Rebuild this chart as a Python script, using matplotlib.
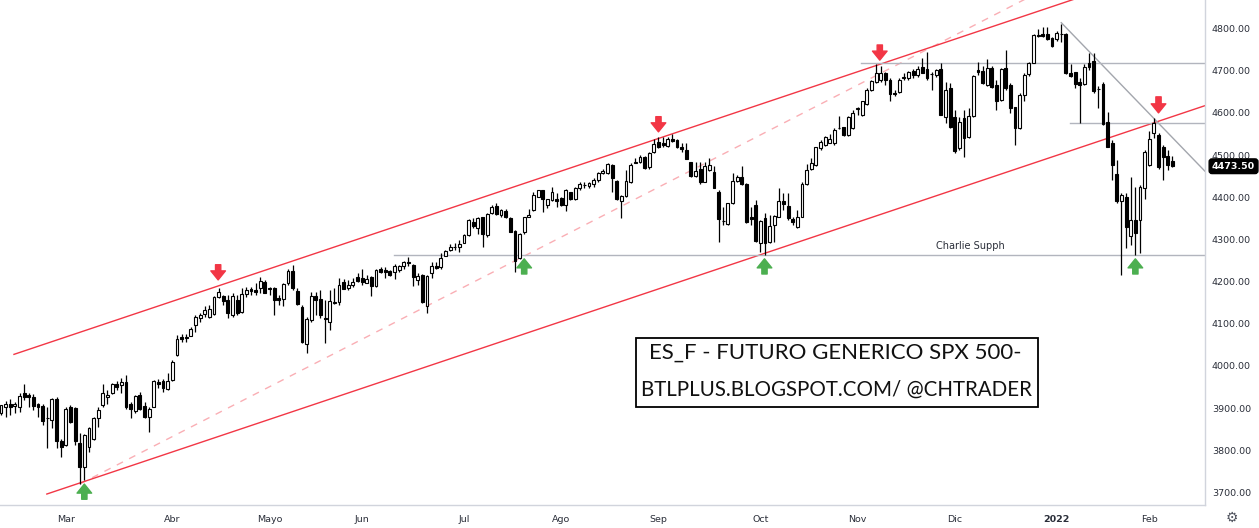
import matplotlib
matplotlib.use("Agg")
import matplotlib.pyplot as plt
from matplotlib.patches import Rectangle
import matplotlib.transforms as mtransforms

# ES_F daily candles, Feb 2021 - Feb 2022
opens = [3888, 3902, 3909, 3905, 3903, 3935, 3930, 3926, 3909, 3905,
         3877, 3873, 3921, 3823, 3813, 3903, 3900, 3817, 3761, 3807,
         3826, 3876, 3907, 3926, 3935, 3957, 3956, 3961, 3910, 3894,
         3931, 3906, 3880, 3903, 3961, 3964, 3945, 3967, 4026, 4068,
         4069, 4072, 4097, 4113, 4123, 4117, 4123, 4163, 4166, 4156,
         4120, 4156, 4127, 4170, 4182, 4180, 4184, 4200, 4184, 4184,
         4160, 4158, 4196, 4224, 4178, 4139, 4052, 4109, 4167, 4158,
         4113, 4105, 4150, 4151, 4198, 4184, 4193, 4210, 4208, 4197,
         4210, 4190, 4231, 4227, 4225, 4222, 4227, 4237, 4247, 4239,
         4204, 4216, 4141, 4220, 4237, 4234, 4261, 4275, 4283, 4283,
         4292, 4310, 4342, 4328, 4352, 4310, 4362, 4379, 4359, 4368,
         4350, 4320, 4257, 4318, 4354, 4370, 4401, 4417, 4382, 4393,
         4396, 4399, 4382, 4412, 4396, 4421, 4428, 4427, 4431, 4441,
         4457, 4457, 4476, 4438, 4391, 4403, 4435, 4481, 4483, 4496,
         4471, 4508, 4530, 4529, 4522, 4538, 4536, 4520, 4512, 4484,
         4451, 4466, 4437, 4465, 4461, 4413, 4343, 4337, 4386, 4439,
         4447, 4431, 4352, 4382, 4292, 4350, 4295, 4334, 4354, 4391,
         4380, 4348, 4329, 4354, 4431, 4466, 4476, 4517, 4524, 4529,
         4528, 4563, 4566, 4548, 4563, 4609, 4595, 4621, 4654, 4674,
         4679, 4694, 4679, 4648, 4649, 4683, 4682, 4700, 4690, 4708,
         4703, 4692, 4690, 4703, 4590, 4658, 4590, 4516, 4589, 4544,
         4593, 4702, 4700, 4666, 4707, 4666, 4631, 4707, 4666, 4613,
         4563, 4642, 4691, 4719, 4785, 4787, 4786, 4777, 4774, 4787,
         4787, 4695, 4696, 4674, 4669, 4719, 4722, 4657, 4668, 4579,
         4528, 4455, 4390, 4401, 4309, 4346, 4346, 4423, 4477, 4553,
         4548, 4518, 4498, 4486]
highs = [3908, 3918, 3921, 3915, 3935, 3957, 3935, 3933, 3913, 3911,
         3903, 3923, 3927, 3828, 3903, 3907, 3903, 3840, 3839, 3856,
         3878, 3903, 3957, 3943, 3959, 3965, 3971, 3979, 3915, 3931,
         3939, 3915, 3903, 3967, 3968, 3968, 3983, 4014, 4073, 4075,
         4075, 4093, 4121, 4125, 4141, 4145, 4166, 4186, 4168, 4168,
         4172, 4168, 4186, 4188, 4188, 4196, 4212, 4204, 4188, 4188,
         4168, 4197, 4231, 4239, 4184, 4145, 4115, 4176, 4176, 4180,
         4156, 4180, 4184, 4208, 4205, 4204, 4208, 4220, 4230, 4216,
         4213, 4229, 4234, 4234, 4227, 4242, 4239, 4250, 4259, 4242,
         4220, 4218, 4216, 4247, 4247, 4267, 4276, 4289, 4291, 4299,
         4314, 4348, 4350, 4354, 4354, 4362, 4382, 4386, 4371, 4371,
         4352, 4322, 4316, 4354, 4371, 4413, 4417, 4417, 4397, 4425,
         4409, 4401, 4420, 4413, 4425, 4435, 4435, 4437, 4445, 4459,
         4466, 4480, 4479, 4441, 4405, 4464, 4480, 4492, 4500, 4498,
         4508, 4537, 4544, 4544, 4542, 4550, 4537, 4528, 4529, 4484,
         4484, 4483, 4484, 4492, 4474, 4417, 4378, 4387, 4457, 4453,
         4474, 4433, 4378, 4393, 4346, 4362, 4358, 4358, 4421, 4409,
         4409, 4354, 4370, 4437, 4479, 4492, 4520, 4536, 4545, 4551,
         4563, 4593, 4567, 4593, 4607, 4615, 4629, 4658, 4679, 4717,
         4711, 4698, 4682, 4654, 4682, 4694, 4700, 4703, 4711, 4729,
         4745, 4698, 4703, 4719, 4674, 4672, 4607, 4591, 4608, 4611,
         4690, 4721, 4710, 4727, 4710, 4678, 4706, 4749, 4670, 4615,
         4646, 4694, 4721, 4786, 4800, 4804, 4804, 4781, 4793, 4810,
         4789, 4717, 4698, 4682, 4717, 4741, 4741, 4664, 4674, 4603,
         4536, 4488, 4409, 4409, 4449, 4425, 4429, 4512, 4558, 4587,
         4552, 4524, 4512, 4498]
lows = [3884, 3880, 3884, 3888, 3892, 3919, 3903, 3896, 3880, 3860,
        3805, 3852, 3805, 3785, 3810, 3864, 3813, 3720, 3730, 3797,
        3824, 3856, 3903, 3911, 3933, 3943, 3935, 3899, 3876, 3888,
        3895, 3876, 3844, 3903, 3947, 3939, 3943, 3965, 4024, 4058,
        4058, 4070, 4081, 4105, 4115, 4113, 4121, 4160, 4145, 4113,
        4117, 4121, 4126, 4164, 4168, 4168, 4172, 4172, 4168, 4121,
        4145, 4141, 4192, 4180, 4145, 4054, 4030, 4105, 4121, 4113,
        4054, 4085, 4148, 4145, 4182, 4180, 4188, 4200, 4192, 4196,
        4166, 4188, 4221, 4208, 4213, 4207, 4223, 4231, 4237, 4190,
        4192, 4150, 4126, 4208, 4231, 4231, 4261, 4273, 4276, 4271,
        4291, 4308, 4326, 4314, 4283, 4306, 4360, 4358, 4354, 4350,
        4318, 4222, 4253, 4314, 4354, 4368, 4400, 4366, 4374, 4390,
        4378, 4379, 4368, 4393, 4393, 4417, 4421, 4421, 4425, 4437,
        4455, 4455, 4413, 4393, 4350, 4401, 4433, 4480, 4480, 4467,
        4468, 4506, 4517, 4518, 4520, 4532, 4516, 4508, 4491, 4449,
        4449, 4431, 4435, 4463, 4421, 4295, 4334, 4334, 4384, 4437,
        4429, 4338, 4334, 4295, 4271, 4263, 4291, 4295, 4352, 4370,
        4346, 4334, 4326, 4352, 4429, 4464, 4474, 4512, 4521, 4528,
        4524, 4561, 4545, 4545, 4561, 4595, 4593, 4619, 4652, 4672,
        4674, 4666, 4629, 4640, 4646, 4678, 4678, 4682, 4684, 4694,
        4679, 4654, 4686, 4595, 4575, 4563, 4504, 4512, 4495, 4540,
        4591, 4690, 4668, 4664, 4658, 4607, 4627, 4654, 4599, 4524,
        4561, 4627, 4688, 4718, 4781, 4781, 4773, 4755, 4771, 4769,
        4692, 4686, 4658, 4575, 4666, 4702, 4646, 4611, 4571, 4518,
        4441, 4386, 4216, 4279, 4287, 4263, 4267, 4397, 4474, 4540,
        4466, 4441, 4465, 4471]
closes = [3907, 3910, 3903, 3911, 3929, 3927, 3926, 3906, 3902, 3870,
          3876, 3921, 3823, 3807, 3897, 3866, 3821, 3761, 3836, 3852,
          3876, 3896, 3935, 3931, 3957, 3951, 3961, 3903, 3897, 3929,
          3897, 3878, 3898, 3964, 3957, 3947, 3965, 4009, 4065, 4063,
          4066, 4087, 4117, 4121, 4133, 4135, 4163, 4175, 4155, 4125,
          4166, 4126, 4170, 4180, 4178, 4175, 4202, 4174, 4182, 4156,
          4156, 4194, 4224, 4184, 4147, 4058, 4112, 4167, 4156, 4121,
          4112, 4154, 4152, 4193, 4182, 4193, 4199, 4202, 4198, 4207,
          4190, 4227, 4223, 4223, 4216, 4238, 4237, 4247, 4245, 4212,
          4213, 4152, 4213, 4237, 4233, 4255, 4272, 4283, 4281, 4290,
          4310, 4345, 4333, 4351, 4312, 4360, 4378, 4360, 4370, 4352,
          4318, 4250, 4314, 4352, 4359, 4405, 4416, 4396, 4396, 4413,
          4391, 4382, 4417, 4396, 4421, 4431, 4429, 4433, 4441, 4457,
          4463, 4478, 4445, 4396, 4403, 4438, 4476, 4483, 4495, 4469,
          4506, 4526, 4520, 4524, 4537, 4534, 4520, 4514, 4491, 4451,
          4462, 4435, 4475, 4476, 4423, 4348, 4344, 4386, 4438, 4447,
          4431, 4342, 4348, 4297, 4344, 4291, 4332, 4355, 4391, 4384,
          4350, 4341, 4354, 4431, 4465, 4480, 4518, 4532, 4542, 4537,
          4559, 4564, 4548, 4591, 4599, 4611, 4627, 4654, 4675, 4695,
          4695, 4679, 4644, 4644, 4679, 4684, 4698, 4690, 4703, 4695,
          4682, 4692, 4702, 4595, 4654, 4567, 4510, 4578, 4540, 4593,
          4687, 4698, 4672, 4707, 4661, 4629, 4704, 4658, 4611, 4563,
          4642, 4690, 4719, 4785, 4782, 4782, 4774, 4759, 4789, 4788,
          4694, 4688, 4669, 4666, 4708, 4708, 4653, 4656, 4574, 4520,
          4477, 4390, 4405, 4330, 4345, 4316, 4425, 4508, 4537, 4577,
          4471, 4495, 4476, 4473.5]

# month labels at the index of the first session of each month
month_labels = ["Mar", "Abr", "Mayo", "Jun", "Jul", "Ago", "Sep", "Oct",
                "Nov", "Dic", "2022", "Feb"]
month_index = [14, 37, 58, 78, 100, 121, 142, 164, 185, 206, 228, 248]

price_ticks = [3700, 3800, 3900, 4000, 4100, 4200, 4300, 4400, 4500,
               4600, 4700, 4800]
last_price = 4473.50

# drawn lines: (index start, index end), (price start, price end)
upper_channel = ([2.8, 240.0], [4027.5, 4899.7])
lower_channel = ([9.9, 260.0], [3696.4, 4617.0])
inner_dashed = ([17.0, 240.0], [3720.0, 4975.5])
down_trend = ([229.0, 260.0], [4813.8, 4462.0])
support_line = ([84.9, 260.0], [4263.0, 4263.0])
nov_high_line = ([185.7, 260.0], [4717.5, 4717.5])
feb_line = ([230.9, 260.0], [4575.0, 4575.0])

# arrow markers: index, tip price, tail price
red_arrows = [(46.9, 4204, 4240), (142.0, 4555, 4591), (189.8, 4725, 4761),
              (250.0, 4600, 4638)]
green_arrows = [(18.0, 3720, 3684), (113.0, 4254, 4218), (164.9, 4254, 4218),
                (245.0, 4254, 4218)]

RED = "#f23645"
GREEN = "#4caf50"
GRAY = "#b2b5be"
TEXT = "#2a2e39"

fig = plt.figure(figsize=(12.59, 5.28), dpi=100)
ax = fig.add_axes([0, 23 / 528, 1205 / 1259, 505 / 528])

# candles
xs = list(range(len(closes)))
ax.vlines(xs, lows, highs, color="black", linewidth=0.9, zorder=3)
bottoms = [min(o, c) for o, c in zip(opens, closes)]
heights = [abs(c - o) for o, c in zip(opens, closes)]
faces = ["white" if c >= o else "black" for o, c in zip(opens, closes)]
ax.bar(xs, heights, bottom=bottoms, width=0.62, color=faces,
       edgecolor="black", linewidth=0.8, zorder=4)

# trend lines
ax.plot(*upper_channel, color=RED, linewidth=1.0, zorder=2)
ax.plot(*lower_channel, color=RED, linewidth=1.0, zorder=2)
ax.plot(*inner_dashed, color=RED, linewidth=1.0, alpha=0.4,
        linestyle=(0, (5, 5)), zorder=2)
ax.plot(*down_trend, color="#a3a6ad", linewidth=1.0, zorder=2)
ax.plot(*support_line, color=GRAY, linewidth=1.0, zorder=2)
ax.plot(*nov_high_line, color=GRAY, linewidth=1.0, zorder=2)
ax.plot(*feb_line, color=GRAY, linewidth=1.0, zorder=2)

ax.text(209.3, 4284, "Charlie Supph", fontsize=7, color=TEXT,
        ha="center", va="center")

arrow_style = "simple,head_width=1.05,head_length=0.65,tail_width=0.38"
for x, tip, tail in red_arrows:
    ax.annotate("", xy=(x, tip), xytext=(x, tail), zorder=6,
                arrowprops=dict(arrowstyle=arrow_style, color=RED,
                                shrinkA=0, shrinkB=0, mutation_scale=10))
for x, tip, tail in green_arrows:
    ax.annotate("", xy=(x, tip), xytext=(x, tail), zorder=6,
                arrowprops=dict(arrowstyle=arrow_style, color=GREEN,
                                shrinkA=0, shrinkB=0, mutation_scale=10))

# title box
ax.add_patch(Rectangle((636 / 1205, 98 / 505), 402 / 1205, 69 / 505,
                       transform=ax.transAxes, facecolor="white",
                       edgecolor="black", linewidth=1.3, zorder=7))
ax.text(0.693, 0.301, "ES_F - FUTURO GENERICO SPX 500-", transform=ax.transAxes,
        fontsize=16, family="Lato", color="#111111", ha="center", va="center",
        zorder=8)
ax.text(0.6943, 0.2291, "BTLPLUS.BLOGSPOT.COM/ @CHTRADER",
        transform=ax.transAxes, fontsize=14.8, family="Lato", color="#111111",
        ha="center", va="center", zorder=8)

# axes
ax.set_xlim(-0.216, 260.04)
ax.set_ylim(3670.4, 4867.6)
ax.yaxis.tick_right()
ax.set_yticks(price_ticks)
ax.set_yticklabels([f"{p:.2f}" for p in price_ticks])
ax.set_xticks(month_index)
ax.set_xticklabels(month_labels)
for lbl in ax.get_xticklabels():
    if lbl.get_text() == "2022":
        lbl.set_fontweight("bold")
ax.tick_params(axis="y", length=0, pad=5, labelsize=6.8, labelcolor=TEXT)
ax.tick_params(axis="x", length=0, pad=7, labelsize=6.8, labelcolor=TEXT)
for side in ["top", "left"]:
    ax.spines[side].set_visible(False)
for side in ["right", "bottom"]:
    ax.spines[side].set_color("#d1d4dc")
    ax.spines[side].set_linewidth(1.0)

trans = mtransforms.blended_transform_factory(ax.transAxes, ax.transData)
ax.text(1.0058, last_price, f"{last_price:.2f}", transform=trans,
        fontsize=6.8, color="white", fontweight="bold", ha="left", va="center",
        bbox=dict(boxstyle="round,pad=0.3", facecolor="black",
                  edgecolor="black"), zorder=9, clip_on=False)

fig.text(1232 / 1259, 1 - 518 / 528, "\u2699", fontsize=10, color="#50535e",
         ha="center", va="center")

fig.savefig("out.png", dpi=100)
